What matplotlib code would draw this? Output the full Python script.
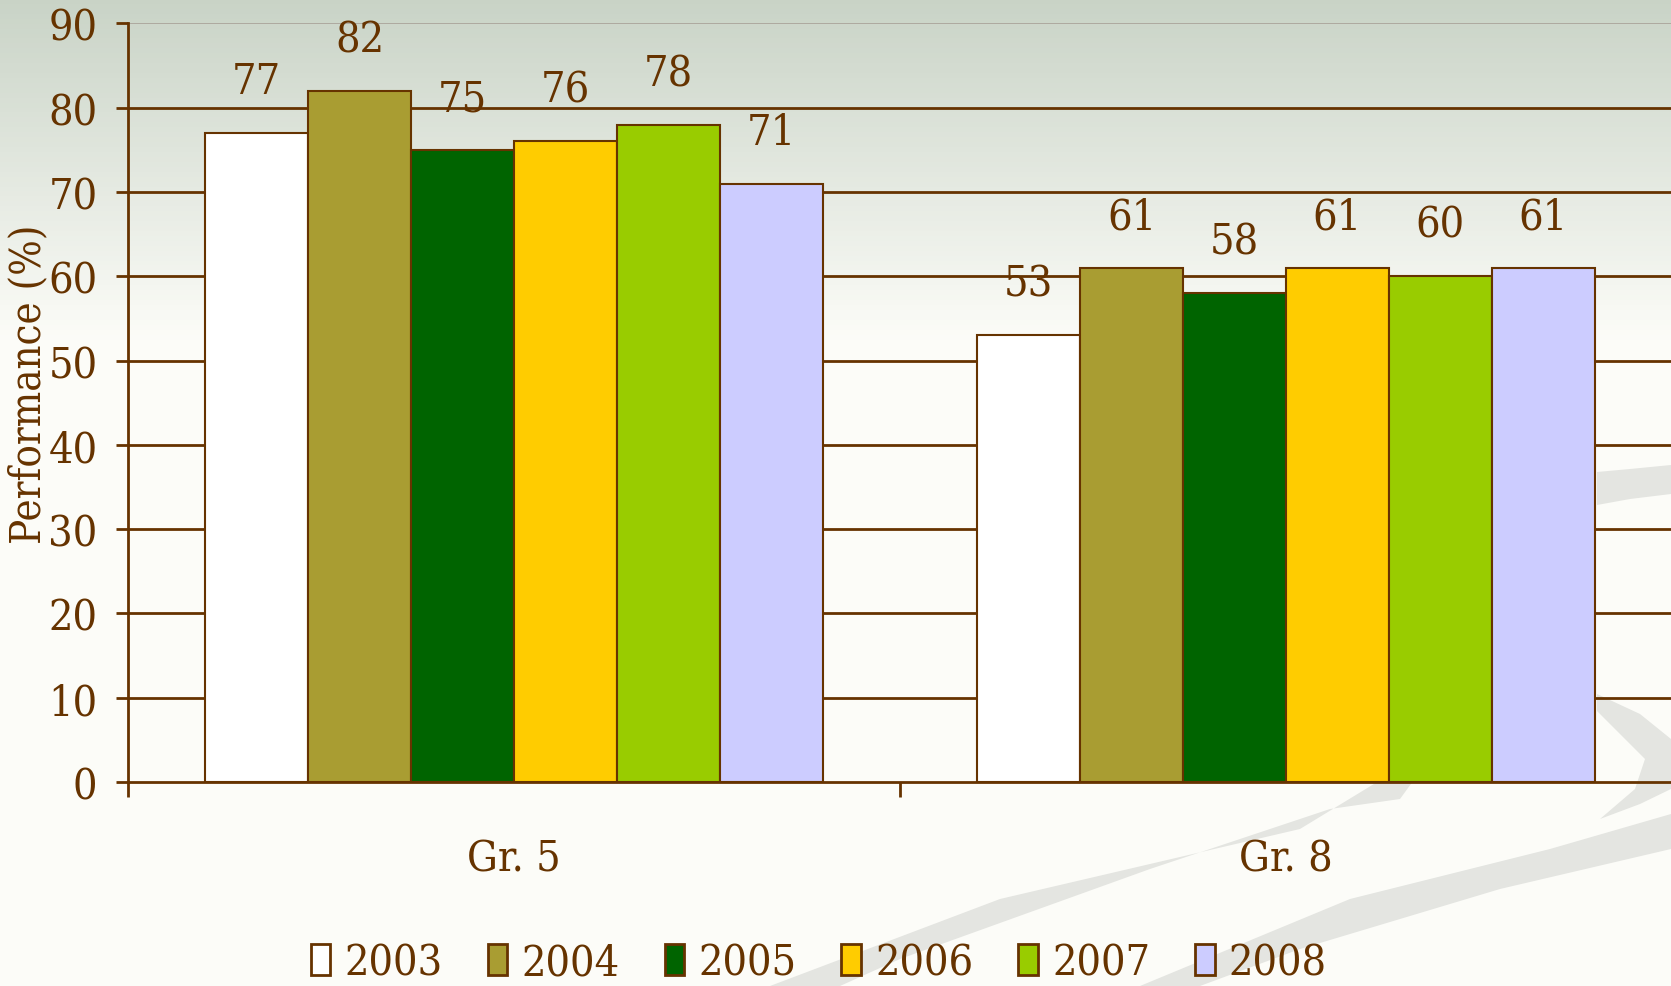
import numpy as np
import matplotlib.pyplot as plt
from matplotlib.patches import Patch, PathPatch
from matplotlib.path import Path

# ---------------------------------------------------------
# 数据
# ---------------------------------------------------------
grades = ["Gr. 5", "Gr. 8"]
years = ["2003", "2004", "2005", "2006", "2007", "2008"]
scores = {
    "2003": [77, 53],
    "2004": [82, 61],
    "2005": [75, 58],
    "2006": [76, 61],
    "2007": [78, 60],
    "2008": [71, 61],
}
year_colors = ["#FFFFFF", "#A99D32", "#006400", "#FFCC00", "#99CC00", "#CCCCFF"]
y_ticks = [0, 10, 20, 30, 40, 50, 60, 70, 80, 90]

BROWN = "#663300"
FS = 31

plt.rcParams['font.family'] = ['DejaVu Serif', 'Liberation Serif']
plt.rcParams['font.stretch'] = 'condensed'

W, H = 1671, 987
fig = plt.figure(figsize=(W / 100, H / 100), dpi=100)

# 背景渐变 + 装饰飘带
bg = fig.add_axes([0, 0, 1, 1], zorder=-10)
bg.set_xlim(0, W)
bg.set_ylim(H, 0)
bg.axis('off')
top_c = np.array([0.79, 0.83, 0.78])
low_c = np.array([0.992, 0.992, 0.976])
t = np.clip(np.linspace(0, 1, 200) / 0.35, 0, 1)[:, None]
grad = top_c * (1 - t) + low_c * t
bg.imshow(grad[:, None, :], extent=[0, W, H, 0], aspect='auto', zorder=0)

swoosh_color = "#e4e5e1"
swooshes = [
    [(770, 987), (1000, 900), (1300, 830), (1415, 760),
     (1440, 745), (1400, 800), (1330, 810), (1150, 870), (900, 960), (840, 987)],
    [(1140, 987), (1350, 900), (1550, 850), (1671, 815),
     (1671, 850), (1500, 890), (1300, 950), (1200, 987)],
    [(1597, 473), (1630, 470), (1671, 466), (1671, 495), (1630, 500), (1597, 506)],
    [(1597, 695), (1640, 715), (1671, 740), (1671, 790), (1640, 805), (1600, 820),
     (1635, 790), (1645, 760), (1597, 712)],
]
for pts in swooshes:
    codes = [Path.MOVETO] + [Path.LINETO] * (len(pts) - 1) + [Path.CLOSEPOLY]
    bg.add_patch(PathPatch(Path(pts + [pts[0]], codes), facecolor=swoosh_color,
                           edgecolor='none', zorder=1))

# ---------------------------------------------------------
# 主图
# ---------------------------------------------------------
ax = fig.add_axes([0.0766, 0.2067, 0.924, 0.7685])
ax.patch.set_alpha(0)

x = np.arange(len(grades))
width = 0.8 / len(years)
for i, (yr, col) in enumerate(zip(years, year_colors)):
    bars = ax.bar(x - 0.4 + width * (i + 0.5), scores[yr], width, color=col,
                  edgecolor=BROWN, linewidth=1.5, zorder=3, label=yr)
    ax.bar_label(bars, padding=22, fontsize=FS, color=BROWN)

for v in y_ticks[1:-1]:
    ax.axhline(v, color=BROWN, linewidth=2, zorder=1)
ax.axhline(y_ticks[-1], color="#a8a298", linewidth=1.2, zorder=1)

ax.set_xlim(-0.5, 1.5)
ax.set_ylim(0, 90)
ax.set_yticks(y_ticks)
ax.set_xticks(x)
ax.set_xticklabels(grades)
ax.set_xticks([-0.5, 0.5, 1.5], minor=True)
ax.tick_params(axis='y', direction='out', length=9, width=2, color=BROWN,
               labelsize=FS, labelcolor=BROWN, pad=13)
ax.tick_params(axis='x', which='major', length=0, labelsize=FS,
               labelcolor=BROWN, pad=40)
ax.tick_params(axis='x', which='minor', direction='out', length=11, width=2,
               color=BROWN)

for s in ['top', 'right']:
    ax.spines[s].set_visible(False)
for s in ['left', 'bottom']:
    ax.spines[s].set_color(BROWN)
    ax.spines[s].set_linewidth(2)
    ax.spines[s].set_zorder(4)

fig.text(0.017, 0.611, "Performance (%)", rotation=90, ha='center', va='center',
         fontsize=30, color=BROWN)

handles = [Patch(facecolor=c, edgecolor=BROWN, linewidth=2) for c in year_colors]
fig.legend(handles, years, loc='center', bbox_to_anchor=(0.49, 0.024), ncol=6,
           frameon=False, fontsize=FS, labelcolor=BROWN, handlelength=0.45,
           handleheight=0.75, handletextpad=0.33, columnspacing=1.05)

plt.savefig("out.png", dpi=100)
